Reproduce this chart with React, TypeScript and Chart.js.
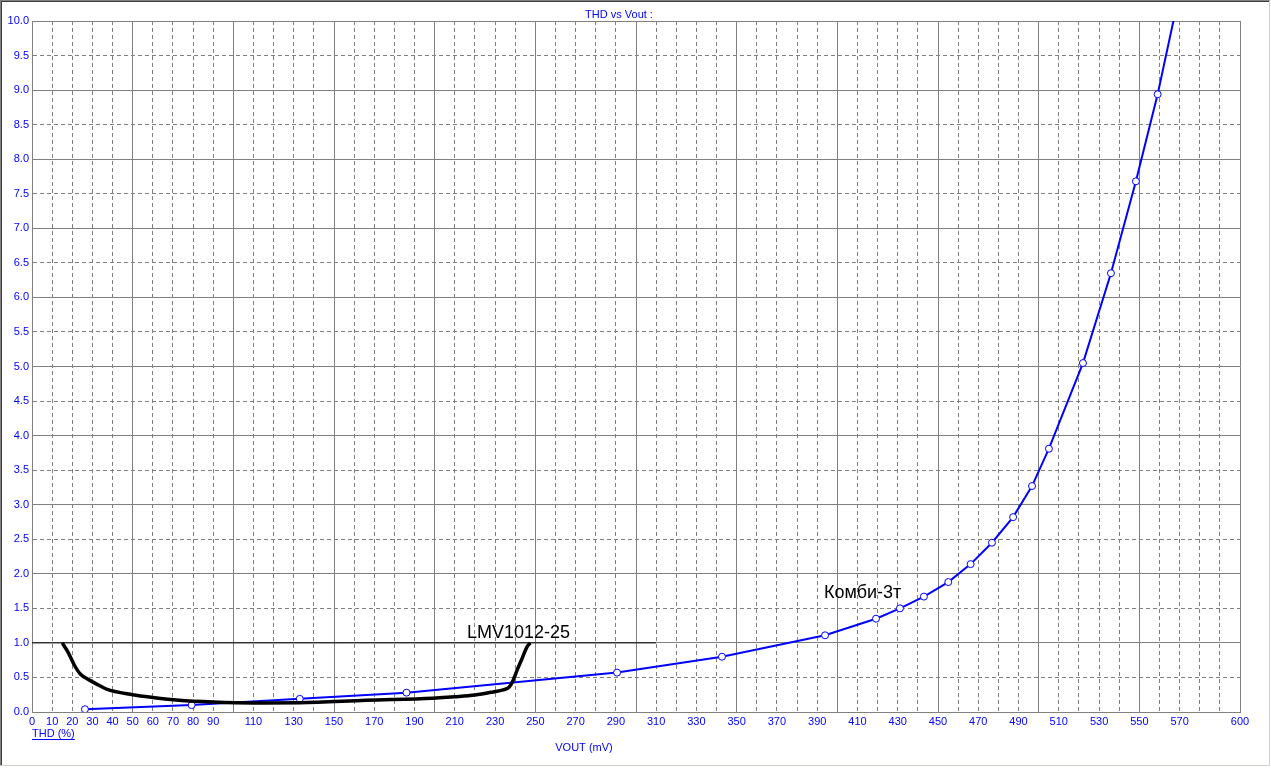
import React, { useEffect, useRef } from 'react';
import { Chart, registerables } from 'chart.js';

Chart.register(...registerables);

// ---- Data ----
const xTickLabels = [0, 10, 20, 30, 40, 50, 60, 70, 80, 90, 110, 130, 150, 170, 190, 210, 230, 250, 270, 290, 310, 330, 350, 370, 390, 410, 430, 450, 470, 490, 510, 530, 550, 570, 600];

// Комби-3т (blue series, VOUT mV vs THD %)
const kombiX = [26.3, 79.3, 133, 186, 290.6, 342.7, 393.9, 419.2, 431.1, 443, 455.1, 466.2, 476.8, 487.3, 496.7, 505.1, 522, 535.9, 548.3, 559.1, 568.7];
const kombiY = [0.04, 0.1, 0.19, 0.28, 0.57, 0.8, 1.11, 1.35, 1.5, 1.67, 1.88, 2.14, 2.45, 2.82, 3.27, 3.81, 5.05, 6.35, 7.68, 8.94, 10.24];

// LMV1012-25 (black thick curve)
const lmvX = [15, 18, 21, 24, 28, 33, 37, 50, 60, 73, 90, 110, 133, 166, 199, 210, 220, 229, 234, 237, 239, 241, 243.5, 246, 247.5];
const lmvY = [1.0, 0.86, 0.68, 0.55, 0.47, 0.39, 0.33, 0.25, 0.21, 0.17, 0.145, 0.132, 0.133, 0.17, 0.2, 0.22, 0.245, 0.29, 0.32, 0.36, 0.46, 0.61, 0.78, 0.95, 1.0];

// Top edge of the LMV overlay (THD = 1 %)
const lmvFrameX = [0, 310];
const lmvFrameY = [1, 1];

// Curve annotations
const annotationTexts = ['LMV1012-25', 'Комби-3т'];
const annotationX = [216, 393.4];
const annotationY = [1.07, 1.65];

const BLUE = '#0000ff';
const GRID = '#808080';
const FONT = "'Liberation Sans', Arial, sans-serif";
const NARROW = "'Liberation Sans Narrow', 'Liberation Sans', Arial, sans-serif";

const textPlugin = {
  id: 'textPlugin',
  afterDraw(chart: any) {
    const ctx = chart.ctx;
    const xs = chart.scales.x;
    const ys = chart.scales.y;
    ctx.save();
    // title
    ctx.fillStyle = BLUE;
    ctx.font = `11px ${FONT}`;
    ctx.textAlign = 'center';
    ctx.textBaseline = 'alphabetic';
    ctx.fillText('THD vs Vout :', 619, 18);
    // x-axis title
    ctx.fillText('VOUT (mV)', 584, 751);
    // y-axis title (underlined)
    ctx.textAlign = 'left';
    ctx.fillText('THD (%)', 32, 737);
    const w = ctx.measureText('THD (%)').width;
    ctx.fillRect(32, 739, w, 1);
    // annotations
    ctx.fillStyle = '#000000';
    ctx.font = `18px ${FONT}`;
    ctx.textAlign = 'left';
    for (let i = 0; i < annotationTexts.length; i++) {
      ctx.fillText(annotationTexts[i], xs.getPixelForValue(annotationX[i]), ys.getPixelForValue(annotationY[i]));
    }
    ctx.restore();
  },
};

export default function App() {
  const ref = useRef<HTMLCanvasElement | null>(null);

  useEffect(() => {
    if (!ref.current) return;
    const chart = new Chart(ref.current, {
      type: 'line',
      data: {
        datasets: [
          {
            label: 'LMV1012-25',
            data: lmvX.map((x, i) => ({ x, y: lmvY[i] })),
            borderColor: '#000000',
            borderWidth: 3.5,
            pointRadius: 0,
            cubicInterpolationMode: 'monotone',
            fill: false,
            order: 0,
          },
          {
            label: 'frame',
            data: lmvFrameX.map((x, i) => ({ x, y: lmvFrameY[i] })),
            borderColor: '#000000',
            borderWidth: 1,
            pointRadius: 0,
            fill: false,
            order: 1,
          },
          {
            label: 'Комби-3т',
            data: kombiX.map((x, i) => ({ x, y: kombiY[i] })),
            borderColor: BLUE,
            borderWidth: 2,
            pointRadius: 3.5,
            pointBorderWidth: 1,
            pointBorderColor: BLUE,
            pointBackgroundColor: '#ffffff',
            tension: 0,
            fill: false,
            order: 2,
          },
        ],
      },
      options: {
        responsive: false,
        animation: false,
        devicePixelRatio: 1,
        layout: { padding: { top: 21, left: 0, right: 31, bottom: 0 } },
        plugins: {
          legend: { display: false },
          tooltip: { enabled: false },
          title: { display: false },
        },
        scales: {
          x: {
            type: 'linear',
            min: 0,
            max: 600,
            afterFit: (s: any) => { s.height = 56; },
            ticks: {
              stepSize: 10,
              autoSkip: false,
              maxRotation: 0,
              minRotation: 0,
              padding: 3,
              color: BLUE,
              font: { family: NARROW, size: 11 },
              callback: (v: any) => (xTickLabels.includes(Number(v)) ? String(v) : ''),
            },
            grid: { color: GRID, lineWidth: 1, drawTicks: false },
            border: {
              color: GRID,
              width: 1,
              dash: (ctx: any) => (ctx.tick && ctx.tick.value % 50 !== 0 ? [4, 3] : []),
            },
          },
          y: {
            type: 'linear',
            min: 0,
            max: 10,
            afterFit: (s: any) => { s.width = 32; },
            ticks: {
              stepSize: 0.5,
              autoSkip: false,
              padding: 3,
              color: BLUE,
              font: { family: FONT, size: 11 },
              callback: (v: any) => Number(v).toFixed(1),
            },
            grid: { color: GRID, lineWidth: 1, drawTicks: false },
            border: {
              color: GRID,
              width: 1,
              dash: (ctx: any) => (ctx.tick && ctx.tick.value % 1 !== 0 ? [4, 3] : []),
            },
          },
        },
      },
      plugins: [textPlugin],
    } as any);
    return () => chart.destroy();
  }, []);

  return (
    <div style={{ position: 'absolute', left: 0, top: 0, width: 1271, height: 768, background: '#ffffff' }}>
      <div
        style={{
          position: 'absolute', left: 0, top: 0, width: 1270, height: 766, boxSizing: 'border-box',
          borderTop: '1px solid #808080', borderLeft: '1px solid #808080',
          borderRight: '1px solid #d4d0c8', borderBottom: '1px solid #d4d0c8',
        }}
      >
        <div style={{ position: 'absolute', left: 0, top: 0, right: 0, bottom: 0, borderTop: '1px solid #404040', borderLeft: '1px solid #404040' }} />
      </div>
      <canvas ref={ref} width={1271} height={768} style={{ position: 'absolute', left: 0, top: 0 }} />
    </div>
  );
}
